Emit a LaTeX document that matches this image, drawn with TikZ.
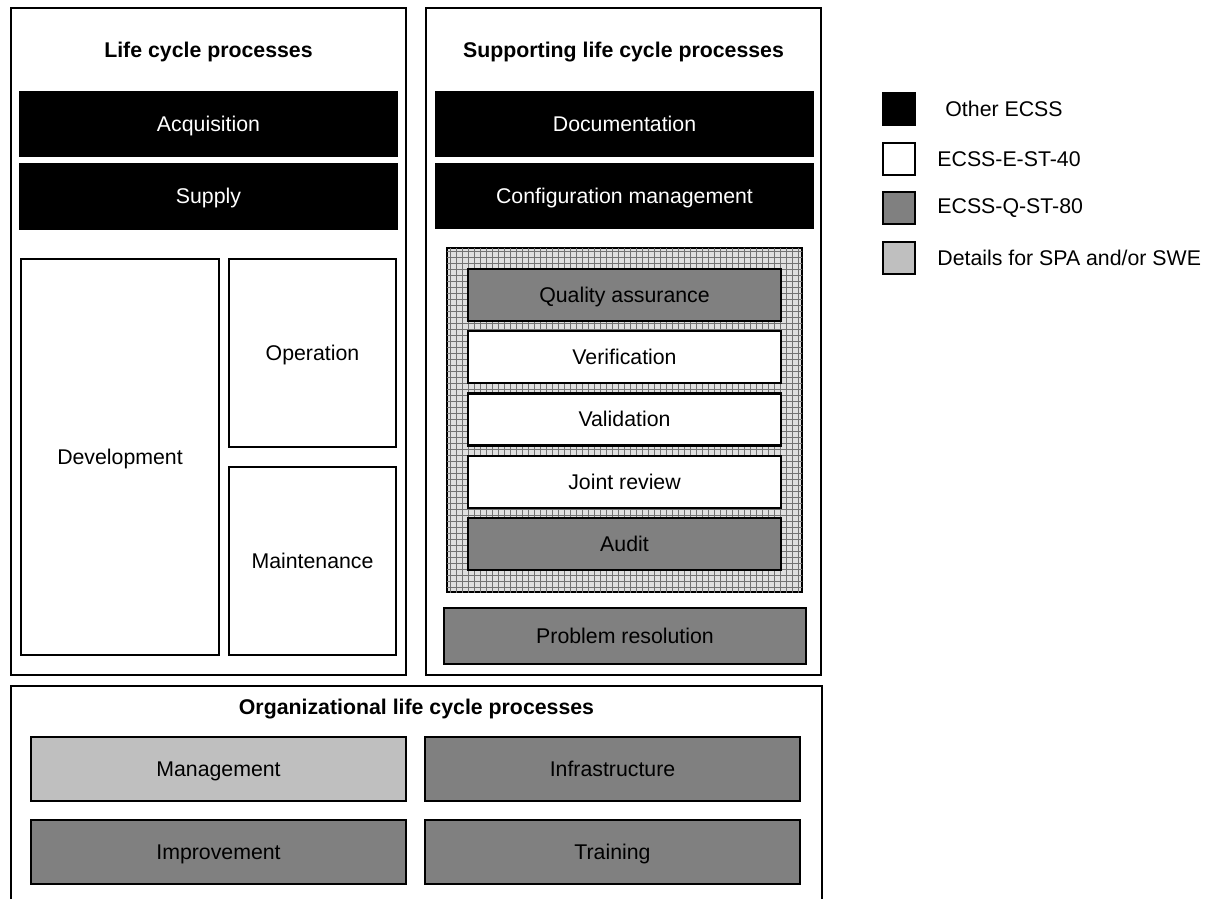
\documentclass[tikz,border=0pt]{standalone}
\usepackage{fontspec}
\setmainfont{Liberation Sans}
\usepackage{tikz}
\usetikzlibrary{patterns}

\begin{document}
\begin{tikzpicture}[x=0.5pt, y=-0.5pt, font=\fontsize{10.65}{12.8}\selectfont]
    \useasboundingbox[fill=white] (0,0) rectangle (1209,899);
    \def\spatext{Details for SPA and/or SWE}

    % --- DEFINE STYLES ---
    % Style for every process box
    \tikzstyle{proc} = [rectangle, draw, line width=1.2pt, inner sep=0pt, align=center,
                        text height=7.4pt, text depth=0pt]
    % Style for processes taken from other ECSS
    \tikzstyle{other_box} = [proc, fill=black, text=white]
    % Style for ECSS-E-ST-40 processes
    \tikzstyle{e_box} = [proc, fill=white]
    % Style for ECSS-Q-ST-80 processes
    \tikzstyle{q_box} = [proc, fill=black!50]
    % Style for details for SPA and/or SWE
    \tikzstyle{spa_box} = [proc, fill=black!25]
    % Style for group frames and their titles
    \tikzstyle{frame_box} = [rectangle, draw, line width=1.3pt, inner sep=0pt]
    \tikzstyle{title} = [font=\fontsize{10.65}{12.8}\selectfont\bfseries]

    % --- GROUP FRAMES ---
    \node[frame_box, minimum width=197.5pt, minimum height=333.5pt] (lcp) at (208.5,341.5) {};
    \node[title] (lcp_title) at (208.5,52) {Life cycle processes};
    \node[frame_box, minimum width=197.5pt, minimum height=333.5pt] (slcp) at (623.5,341.5) {};
    \node[title] (slcp_title) at (623.5,52) {Supporting life cycle processes};
    % bottom frame runs off the page
    \draw[line width=1.3pt] (11,899) |- (822,686) -- (822,899);
    \node[title] (olcp_title) at (416.5,709) {Organizational life cycle processes};

    % --- LIFE CYCLE PROCESSES ---
    \node[other_box, minimum width=188.5pt, minimum height=32pt] (acq) at (208.5,124) {Acquisition};
    \node[other_box, minimum width=188.5pt, minimum height=32.5pt] (supply) at (208.5,196.5) {Supply};
    \node[e_box, minimum width=99pt, minimum height=198pt] (dev) at (120,457) {Development};
    \node[e_box, minimum width=83.5pt, minimum height=94pt] (oper) at (312.5,353) {Operation};
    \node[e_box, minimum width=83.5pt, minimum height=94pt] (maint) at (312.5,561) {Maintenance};

    % --- SUPPORTING LIFE CYCLE PROCESSES ---
    \node[other_box, minimum width=188.5pt, minimum height=32pt] (doc) at (624.5,124) {Documentation};
    \node[other_box, minimum width=188.5pt, minimum height=32pt] (config) at (624.5,196) {Configuration management};
    \node[frame_box, line width=1pt, fill=black!12, postaction={pattern=grid, pattern color=black!55},
          minimum width=177.5pt, minimum height=172pt] (vv_group) at (624.5,420) {};
    \foreach \name/\label/\style [count=\i from 0] in {qa/Quality assurance/q_box, verif/Verification/e_box,
            valid/Validation/e_box, review/Joint review/e_box, audit/Audit/q_box} {
        \node[\style, minimum width=156.5pt, minimum height=26pt] (\name) at (624.5, 295+62.25*\i) {\label};
    }
    \node[q_box, minimum width=181pt, minimum height=28pt] (problem) at (625,636) {Problem resolution};

    % --- ORGANIZATIONAL LIFE CYCLE PROCESSES ---
    \node[spa_box, minimum width=187.5pt, minimum height=32pt] (mgmt) at (218.5,769) {Management};
    \node[q_box, minimum width=187.5pt, minimum height=32pt] (infra) at (612.5,769) {Infrastructure};
    \node[q_box, minimum width=187.5pt, minimum height=32pt] (improve) at (218.5,852) {Improvement};
    \node[q_box, minimum width=187.5pt, minimum height=32pt] (train) at (612.5,852) {Training};

    % --- LEGEND ---
    \foreach \label/\style/\y/\dx [count=\i] in {Other ECSS/other_box/109/8, ECSS-E-ST-40/e_box/159/0,
            ECSS-Q-ST-80/q_box/208/0, \spatext/spa_box/258/0} {
        \node[\style, minimum size=16pt] (key\i) at (899,\y) {};
        \node[anchor=west, inner sep=0pt] (key_label\i) at (937+\dx,\y) {\label};
    }
\end{tikzpicture}
\end{document}
